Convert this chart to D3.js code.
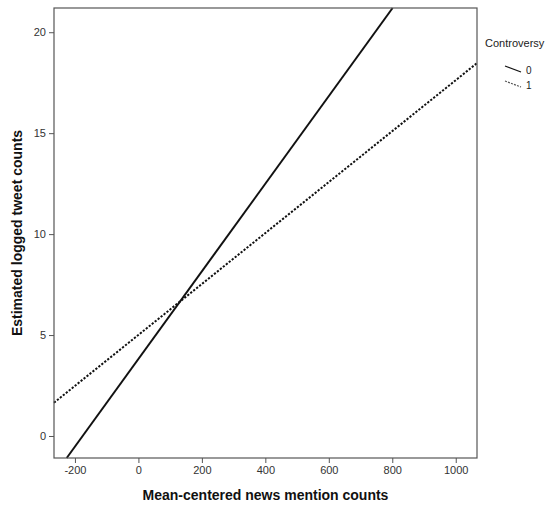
<!DOCTYPE html>
<html>
<head>
<meta charset="utf-8">
<script src="https://cdn.jsdelivr.net/npm/d3@7"></script>
<style>
body { margin: 0; background: #fff; }
svg { font-family: "Liberation Sans", Arial, sans-serif; }
</style>
</head>
<body>
<div id="chart"></div>
<script>
const width = 555, height = 506;

// fitted lines: endpoints
const xDomain = [-266, 1067];
const yDomain = [-1.09, 21.2];
const xTicks = [-200, 0, 200, 400, 600, 800, 1000];
const yTicks = [0, 5, 10, 15, 20];

const groups = ["0", "1"];
const lineX = [[-226, 801], [-266, 1067]];
const lineY = [[-1.09, 21.2], [1.65, 18.47]];
const dashes = [null, "2.2,1.6"];

const margin = {left: 54, top: 8, right: 78, bottom: 48};

const svg = d3.select("#chart").append("svg")
	.attr("width", width)
	.attr("height", height);

const x = d3.scaleLinear().domain(xDomain).range([margin.left, width - margin.right]);
const y = d3.scaleLinear().domain(yDomain).range([height - margin.bottom, margin.top]);

// lines
const line = d3.line().x(d => x(d[0])).y(d => y(d[1]));
groups.forEach((g, i) => {
	svg.append("path")
		.datum([[lineX[i][0], lineY[i][0]], [lineX[i][1], lineY[i][1]]])
		.attr("d", line)
		.attr("fill", "none")
		.attr("stroke", "#111")
		.attr("stroke-width", 2)
		.attr("stroke-dasharray", dashes[i]);
});

// frame
svg.append("rect")
	.attr("x", x.range()[0])
	.attr("y", y.range()[1])
	.attr("width", x.range()[1] - x.range()[0])
	.attr("height", y.range()[0] - y.range()[1])
	.attr("fill", "none")
	.attr("stroke", "#555")
	.attr("stroke-width", 1.2);

// axes
const xAxis = svg.append("g")
	.attr("transform", `translate(0,${y.range()[0]})`)
	.call(d3.axisBottom(x).tickValues(xTicks).tickSize(5).tickPadding(3).tickFormat(d => String(d)));
const yAxis = svg.append("g")
	.attr("transform", `translate(${x.range()[0]},0)`)
	.call(d3.axisLeft(y).tickValues(yTicks).tickSize(5).tickPadding(3).tickFormat(d => String(d)));

[xAxis, yAxis].forEach(a => {
	a.select(".domain").remove();
	a.selectAll(".tick line").attr("stroke", "#555");
	a.selectAll(".tick text")
		.attr("fill", "#333")
		.style("font-size", "11px")
		.style("font-family", "Liberation Sans, Arial, sans-serif");
});

// axis titles
svg.append("text")
	.attr("x", (x.range()[0] + x.range()[1]) / 2)
	.attr("y", 500)
	.attr("text-anchor", "middle")
	.style("font-size", "14px")
	.style("font-weight", "bold")
	.attr("fill", "#111")
	.text("Mean-centered news mention counts");

svg.append("text")
	.attr("transform", `translate(22,${(y.range()[0] + y.range()[1]) / 2}) rotate(-90)`)
	.attr("text-anchor", "middle")
	.style("font-size", "14px")
	.style("font-weight", "bold")
	.attr("fill", "#111")
	.text("Estimated logged tweet counts");

// legend
svg.append("text")
	.attr("x", 485)
	.attr("y", 47)
	.style("font-size", "11px")
	.attr("fill", "#222")
	.text("Controversy");

groups.forEach((g, i) => {
	const ly = 68 + i * 15;
	svg.append("line")
		.attr("x1", 505).attr("y1", ly - 2)
		.attr("x2", 521).attr("y2", ly + 4)
		.attr("stroke", i == 0 ? "#111" : "#555")
		.attr("stroke-width", 1.2)
		.attr("stroke-dasharray", i == 0 ? null : "2,1.2");
	svg.append("text")
		.attr("x", 526)
		.attr("y", ly + 6)
		.style("font-size", "10px")
		.attr("fill", "#222")
		.text(g);
});
</script>
</body>
</html>
